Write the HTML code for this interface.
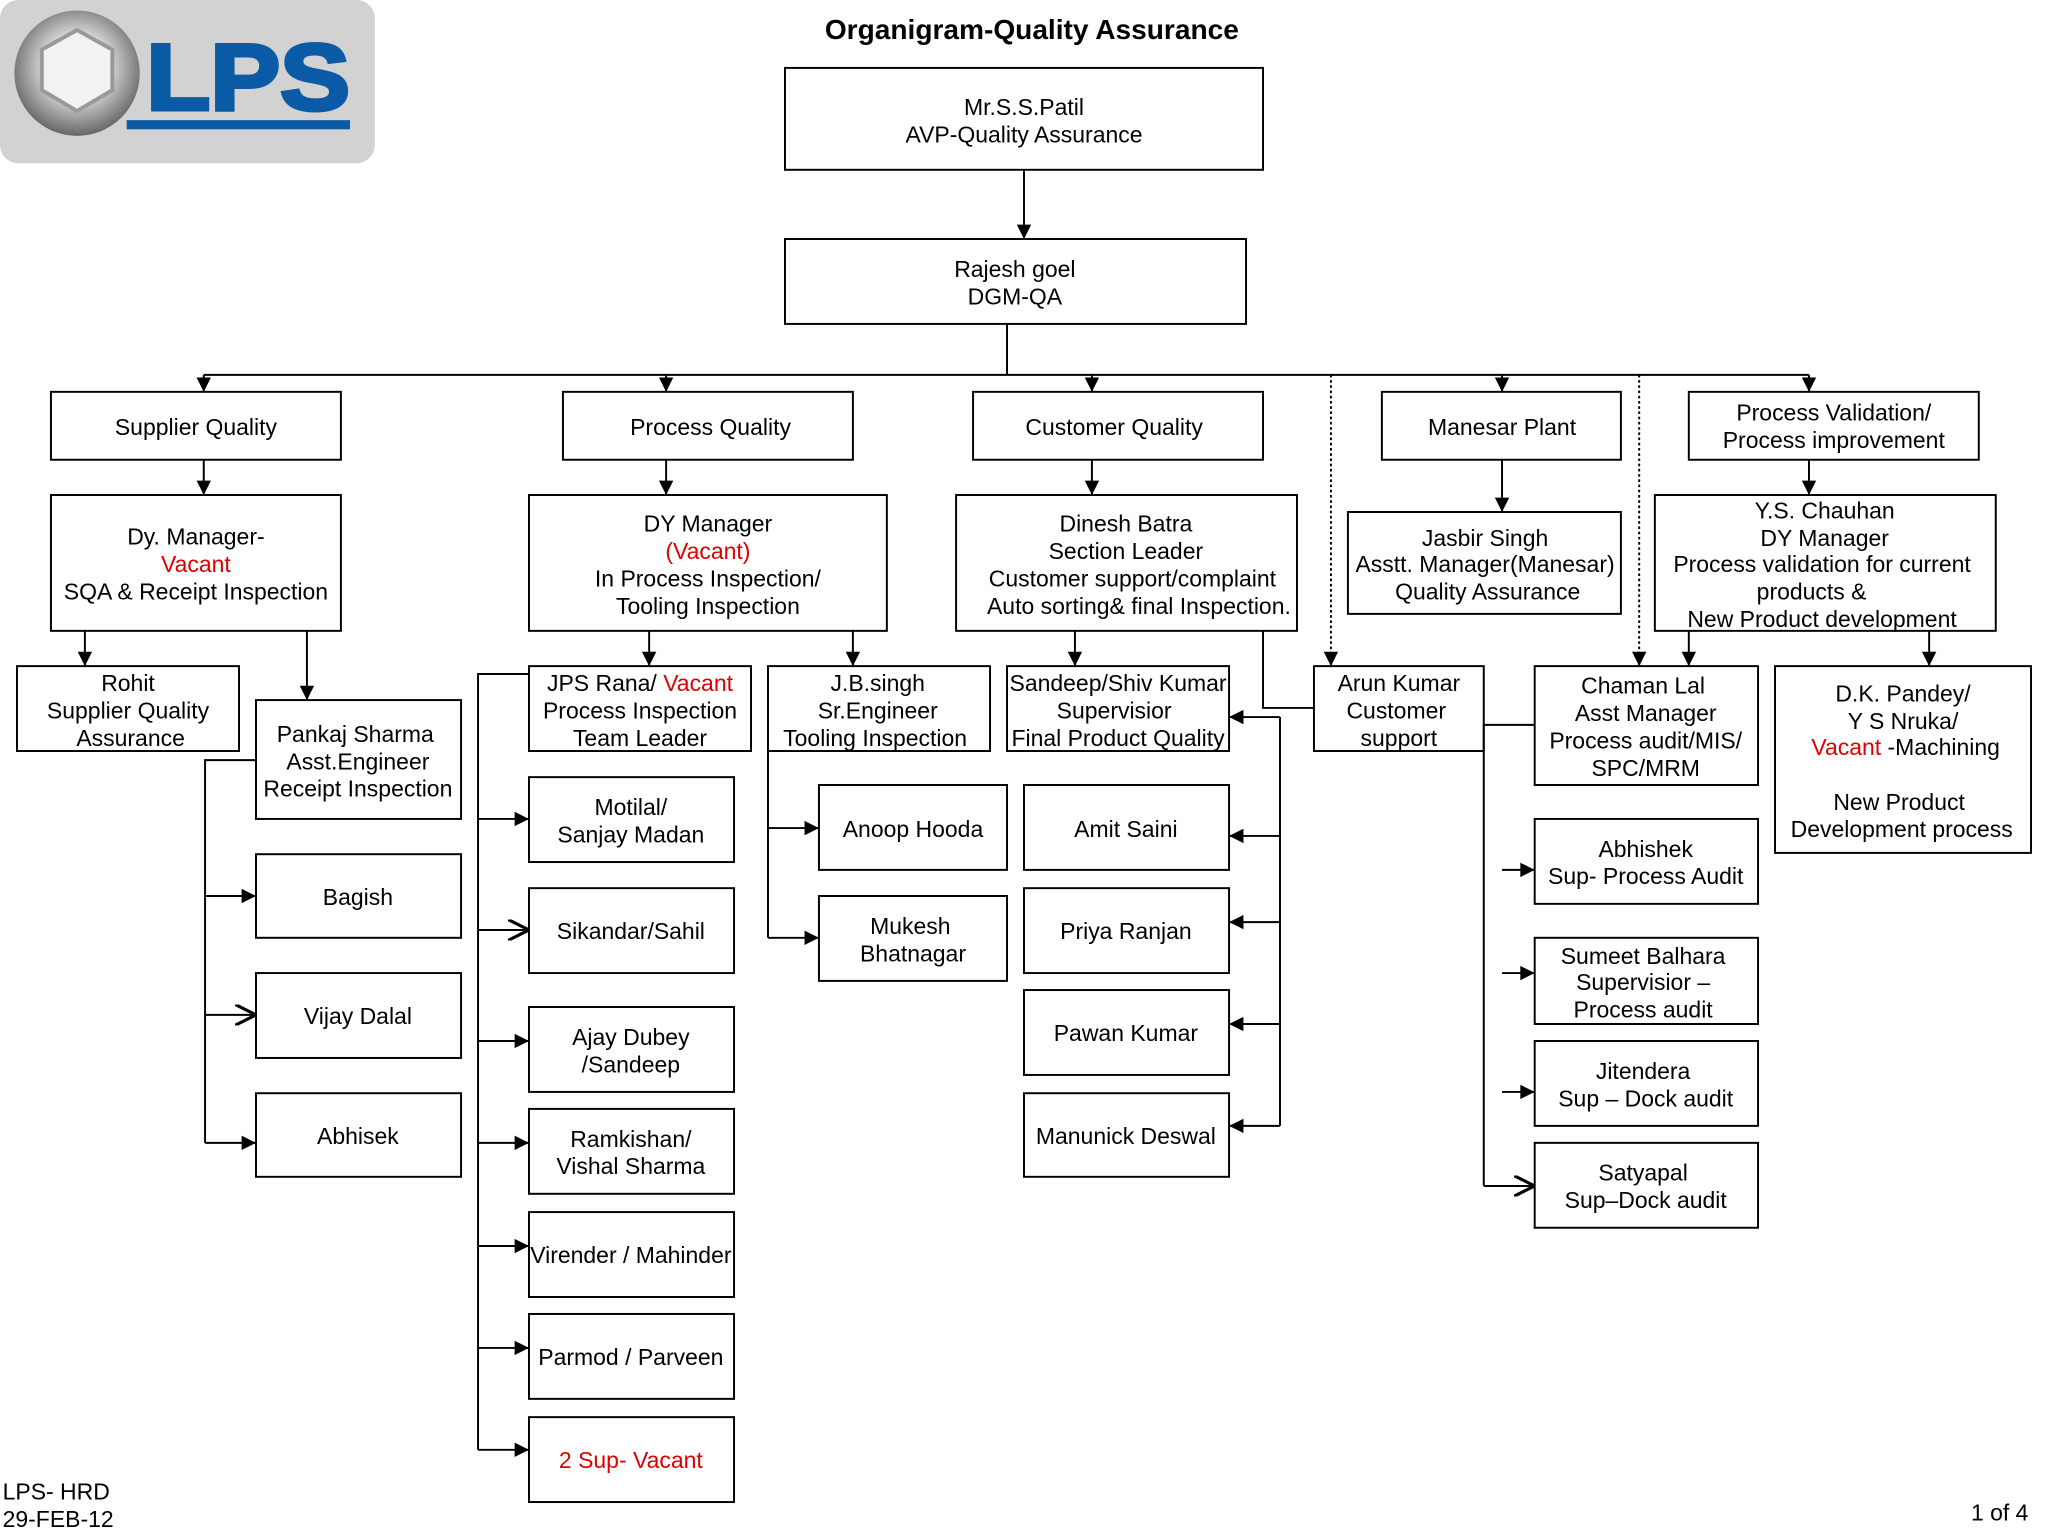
<!DOCTYPE html>
<html><head><meta charset="utf-8"><style>
html,body{margin:0;padding:0;background:#fff}
svg{display:block}
text{font-family:"Liberation Sans",sans-serif;font-size:17.6px;fill:#000}
</style></head><body>
<svg width="2048" height="1536" viewBox="0 0 1568 1176" xmlns="http://www.w3.org/2000/svg">
<defs>
<marker id="a" viewBox="0 0 10 10" refX="10" refY="5" markerWidth="12" markerHeight="11" orient="auto" markerUnits="userSpaceOnUse"><path d="M0,0 L10,5 L0,10 z" fill="#000"/></marker>
<marker id="o" viewBox="0 0 10 10" refX="10" refY="5" markerWidth="16" markerHeight="16" orient="auto" markerUnits="userSpaceOnUse"><path d="M0,0 L10,5 L0,10" fill="none" stroke="#000" stroke-width="1.5"/></marker>
<radialGradient id="g" cx="50%" cy="45%" r="55%"><stop offset="0" stop-color="#fff"/><stop offset="0.45" stop-color="#ddd"/><stop offset="1" stop-color="#666"/></radialGradient>
</defs>
<!-- logo -->
<rect x="0" y="0" width="287" height="125" rx="14" fill="#d2d2d2"/>
<rect x="97" y="92" width="171" height="7" fill="#0b5aa6"/>
<circle cx="59" cy="56" r="48" fill="url(#g)"/>
<polygon points="59,23 86,38 86,69 59,85 32,69 32,38" fill="#f2f2f2" stroke="#999" stroke-width="3"/>
<text x="112" y="84" textLength="156" lengthAdjust="spacingAndGlyphs" style="font-size:72px;font-weight:bold;fill:#0b5aa6;stroke:#0b5aa6;stroke-width:3">LPS</text>
<text x="790" y="30" text-anchor="middle" style="font-size:21.5px;font-weight:bold">Organigram-Quality Assurance</text>
<g fill="none" stroke="#000" stroke-width="1.5">
<rect x="601" y="52" width="366" height="78"/>
<rect x="601" y="183" width="353" height="65"/>
<rect x="39" y="300" width="222" height="52"/>
<rect x="431" y="300" width="222" height="52"/>
<rect x="745" y="300" width="222" height="52"/>
<rect x="1058" y="300" width="183" height="52"/>
<rect x="1293" y="300" width="222" height="52"/>
<rect x="39" y="379" width="222" height="104"/>
<rect x="405" y="379" width="274" height="104"/>
<rect x="732" y="379" width="261" height="104"/>
<rect x="1032" y="392" width="209" height="78"/>
<rect x="1267" y="379" width="261" height="104"/>
<rect x="13" y="510" width="170" height="65"/>
<rect x="196" y="536" width="157" height="91"/>
<rect x="196" y="654" width="157" height="64"/>
<rect x="196" y="745" width="157" height="65"/>
<rect x="196" y="837" width="157" height="64"/>
<rect x="405" y="510" width="170" height="65"/>
<rect x="588" y="510" width="170" height="65"/>
<rect x="771" y="510" width="170" height="65"/>
<rect x="1006" y="510" width="130" height="65"/>
<rect x="1175" y="510" width="171" height="91"/>
<rect x="1359" y="510" width="196" height="143"/>
<rect x="405" y="595" width="157" height="65"/>
<rect x="405" y="680" width="157" height="65"/>
<rect x="405" y="771" width="157" height="65"/>
<rect x="405" y="849" width="157" height="65"/>
<rect x="405" y="928" width="157" height="65"/>
<rect x="405" y="1006" width="157" height="65"/>
<rect x="405" y="1085" width="157" height="65"/>
<rect x="627" y="601" width="144" height="65"/>
<rect x="627" y="686" width="144" height="65"/>
<rect x="784" y="601" width="157" height="65"/>
<rect x="784" y="680" width="157" height="65"/>
<rect x="784" y="758" width="157" height="65"/>
<rect x="784" y="837" width="157" height="64"/>
<rect x="1175" y="627" width="171" height="65"/>
<rect x="1175" y="718" width="171" height="66"/>
<rect x="1175" y="797" width="171" height="65"/>
<rect x="1175" y="875" width="171" height="65"/>
</g>
<g fill="none" stroke="#000" stroke-width="1.5">
<line x1="784" y1="130" x2="784" y2="183" marker-end="url(#a)"/>
<line x1="771" y1="248" x2="771" y2="287"/>
<line x1="156" y1="287" x2="1385" y2="287"/>
<line x1="156" y1="287" x2="156" y2="300" marker-end="url(#a)"/>
<line x1="510" y1="287" x2="510" y2="300" marker-end="url(#a)"/>
<line x1="836" y1="287" x2="836" y2="300" marker-end="url(#a)"/>
<line x1="1150" y1="287" x2="1150" y2="300" marker-end="url(#a)"/>
<line x1="1385" y1="287" x2="1385" y2="300" marker-end="url(#a)"/>
<line x1="1019" y1="287" x2="1019" y2="510" stroke-dasharray="2,2" marker-end="url(#a)"/>
<line x1="1255" y1="287" x2="1255" y2="510" stroke-dasharray="2,2" marker-end="url(#a)"/>
<line x1="156" y1="352" x2="156" y2="379" marker-end="url(#a)"/>
<line x1="510" y1="352" x2="510" y2="379" marker-end="url(#a)"/>
<line x1="836" y1="352" x2="836" y2="379" marker-end="url(#a)"/>
<line x1="1150" y1="352" x2="1150" y2="392" marker-end="url(#a)"/>
<line x1="1385" y1="352" x2="1385" y2="379" marker-end="url(#a)"/>
<line x1="65" y1="483" x2="65" y2="510" marker-end="url(#a)"/>
<line x1="235" y1="483" x2="235" y2="536" marker-end="url(#a)"/>
<line x1="497" y1="483" x2="497" y2="510" marker-end="url(#a)"/>
<line x1="653" y1="483" x2="653" y2="510" marker-end="url(#a)"/>
<line x1="823" y1="483" x2="823" y2="510" marker-end="url(#a)"/>
<line x1="1293" y1="483" x2="1293" y2="510" marker-end="url(#a)"/>
<line x1="1477" y1="483" x2="1477" y2="510" marker-end="url(#a)"/>
<polyline points="196,582 157,582 157,875"/>
<line x1="157" y1="686" x2="196" y2="686" marker-end="url(#a)"/>
<line x1="157" y1="777" x2="196" y2="777" marker-end="url(#o)"/>
<line x1="157" y1="875" x2="196" y2="875" marker-end="url(#a)"/>
<polyline points="405,516 366,516 366,1110"/>
<line x1="366" y1="627" x2="405" y2="627" marker-end="url(#a)"/>
<line x1="366" y1="712" x2="405" y2="712" marker-end="url(#o)"/>
<line x1="366" y1="797" x2="405" y2="797" marker-end="url(#a)"/>
<line x1="366" y1="875" x2="405" y2="875" marker-end="url(#a)"/>
<line x1="366" y1="954" x2="405" y2="954" marker-end="url(#a)"/>
<line x1="366" y1="1032" x2="405" y2="1032" marker-end="url(#a)"/>
<line x1="366" y1="1110" x2="405" y2="1110" marker-end="url(#a)"/>
<polyline points="588,575 588,718"/>
<line x1="588" y1="634" x2="627" y2="634" marker-end="url(#a)"/>
<line x1="588" y1="718" x2="627" y2="718" marker-end="url(#a)"/>
<polyline points="980,549 980,862"/>
<line x1="980" y1="549" x2="941" y2="549" marker-end="url(#a)"/>
<line x1="980" y1="640" x2="941" y2="640" marker-end="url(#a)"/>
<line x1="980" y1="706" x2="941" y2="706" marker-end="url(#a)"/>
<line x1="980" y1="784" x2="941" y2="784" marker-end="url(#a)"/>
<line x1="980" y1="862" x2="941" y2="862" marker-end="url(#a)"/>
<polyline points="967,483 967,542 1006,542"/>
<polyline points="1175,555 1136,555 1136,908"/>
<line x1="1150" y1="666" x2="1175" y2="666" marker-end="url(#a)"/>
<line x1="1150" y1="745" x2="1175" y2="745" marker-end="url(#a)"/>
<line x1="1150" y1="836" x2="1175" y2="836" marker-end="url(#a)"/>
<line x1="1136" y1="908" x2="1175" y2="908" marker-end="url(#o)"/>
</g>
<g text-anchor="middle">
<text x="784" y="88">Mr.S.S.Patil</text><text x="784" y="109">AVP-Quality Assurance</text>
<text x="777" y="212">Rajesh goel</text><text x="777" y="233">DGM-QA</text>
<text x="150" y="333">Supplier Quality</text>
<text x="544" y="333">Process Quality</text>
<text x="853" y="333">Customer Quality</text>
<text x="1150" y="333">Manesar Plant</text>
<text x="1404" y="322">Process Validation/</text><text x="1404" y="343">Process improvement</text>
<text x="150" y="417">Dy. Manager-</text><text x="150" y="438" style="fill:#e00000">Vacant</text><text x="150" y="459">SQA &amp; Receipt Inspection</text>
<text x="542" y="407">DY Manager</text><text x="542" y="428" style="fill:#e00000">(Vacant)</text><text x="542" y="449">In Process Inspection/</text><text x="542" y="470">Tooling Inspection</text>
<text x="862" y="407">Dinesh Batra</text><text x="862" y="428">Section Leader</text><text x="867" y="449">Customer support/complaint</text><text x="872" y="470">Auto sorting&amp; final Inspection.</text>
<text x="1137" y="418">Jasbir Singh</text><text x="1137" y="438">Asstt. Manager(Manesar)</text><text x="1139" y="459">Quality Assurance</text>
<text x="1397" y="397">Y.S. Chauhan</text><text x="1397" y="418">DY Manager</text><text x="1395" y="438">Process validation for current</text><text x="1387" y="459">products &amp;</text><text x="1395" y="480">New Product development</text>
<text x="98" y="529">Rohit</text><text x="98" y="550">Supplier Quality</text><text x="100" y="571">Assurance</text>
<text x="272" y="568">Pankaj Sharma</text><text x="274" y="589">Asst.Engineer</text><text x="274" y="610">Receipt Inspection</text>
<text x="274" y="693">Bagish</text>
<text x="274" y="784">Vijay Dalal</text>
<text x="274" y="876">Abhisek</text>
<text x="490" y="529">JPS Rana/ <tspan style="fill:#e00000">Vacant</tspan></text><text x="490" y="550">Process Inspection</text><text x="490" y="571">Team Leader</text>
<text x="672" y="529">J.B.singh</text><text x="672" y="550">Sr.Engineer</text><text x="670" y="571">Tooling Inspection</text>
<text x="856" y="529">Sandeep/Shiv Kumar</text><text x="853" y="550">Supervisior</text><text x="856" y="571">Final Product Quality</text>
<text x="1071" y="529">Arun Kumar</text><text x="1069" y="550">Customer</text><text x="1071" y="571">support</text>
<text x="1258" y="531">Chaman Lal</text><text x="1260" y="552">Asst Manager</text><text x="1260" y="573">Process audit/MIS/</text><text x="1260" y="594">SPC/MRM</text>
<text x="1457" y="537">D.K. Pandey/</text><text x="1457" y="558">Y S Nruka/</text><text x="1459" y="578"><tspan style="fill:#e00000">Vacant</tspan> -Machining</text><text x="1454" y="620">New Product</text><text x="1456" y="641">Development process</text>
<text x="483" y="624">Motilal/</text><text x="483" y="645">Sanjay Madan</text>
<text x="483" y="719">Sikandar/Sahil</text>
<text x="483" y="800">Ajay Dubey</text><text x="483" y="821">/Sandeep</text>
<text x="483" y="878">Ramkishan/</text><text x="483" y="899">Vishal Sharma</text>
<text x="483" y="967">Virender / Mahinder</text>
<text x="483" y="1045">Parmod / Parveen</text>
<text x="483" y="1124" style="fill:#e00000">2 Sup- Vacant</text>
<text x="699" y="641">Anoop Hooda</text>
<text x="697" y="715">Mukesh</text><text x="699" y="736">Bhatnagar</text>
<text x="862" y="641">Amit Saini</text>
<text x="862" y="719">Priya Ranjan</text>
<text x="862" y="797">Pawan Kumar</text>
<text x="862" y="876">Manunick Deswal</text>
<text x="1260" y="656">Abhishek</text><text x="1260" y="677">Sup- Process Audit</text>
<text x="1258" y="738">Sumeet Balhara</text><text x="1258" y="758">Supervisior –</text><text x="1258" y="779">Process audit</text>
<text x="1258" y="826">Jitendera</text><text x="1260" y="847">Sup – Dock audit</text>
<text x="1258" y="904">Satyapal</text><text x="1260" y="925">Sup–Dock audit</text>
</g>
<text x="2" y="1148">LPS- HRD</text>
<text x="2" y="1169">29-FEB-12</text>
<text x="1553" y="1164" text-anchor="end">1 of 4</text>
</svg>
</body></html>
